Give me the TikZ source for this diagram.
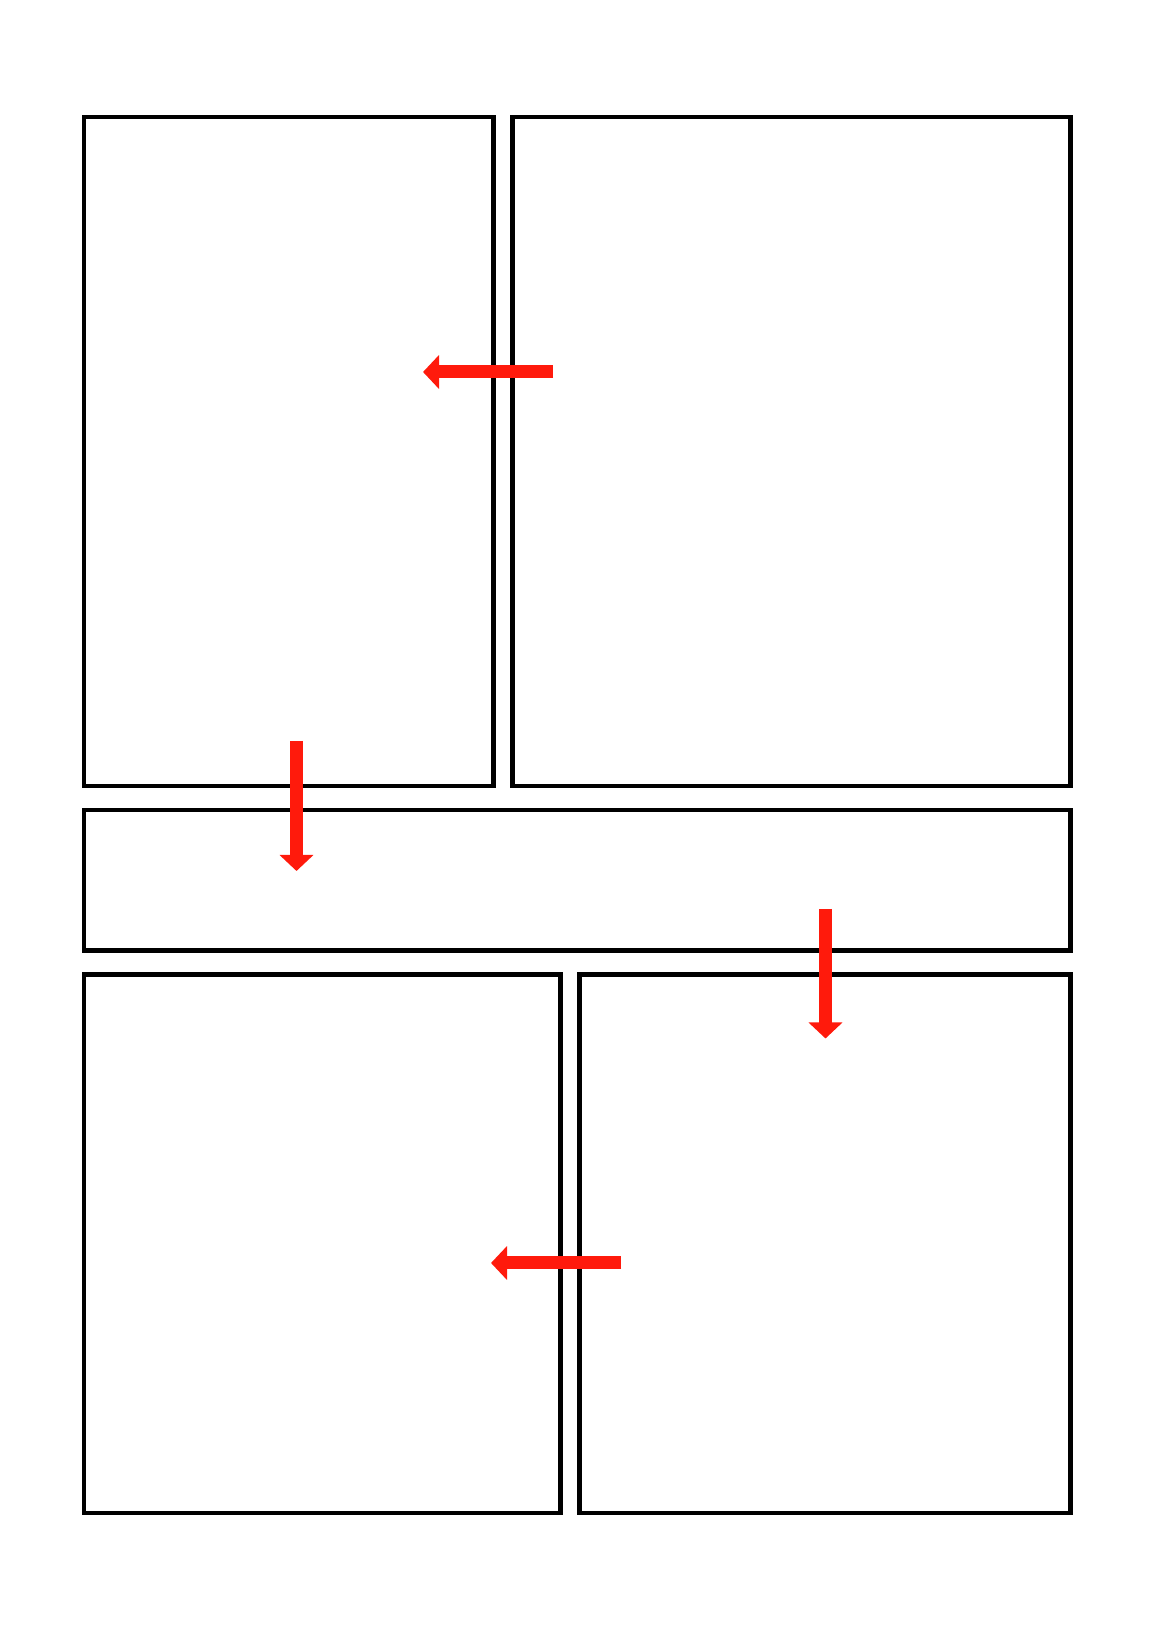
\documentclass[tikz,border=0pt]{standalone}
\usetikzlibrary{arrows.meta}
\definecolor{arrowred}{RGB}{255,26,12}
\begin{document}
\begin{tikzpicture}[panel/.style={black,line width=1.33pt},
	readarrow/.style={arrowred,line width=0.13cm,-{Triangle[length=0.16cm,width=0.33cm]}}]
	\useasboundingbox (0.0,0.0) rectangle (11.55,16.36);
	% Panels
	\draw [panel] (0.84,8.50) rectangle (4.935,15.19);
	\draw [panel] (5.125,8.50) rectangle (10.705,15.19);
	\draw [panel] (0.84,6.855) rectangle (10.705,8.26);
	\draw [panel] (0.84,1.23) rectangle (5.605,6.615);
	\draw [panel] (5.795,1.23) rectangle (10.705,6.615);
	%Reading order
	\coordinate (r1s) at (5.53,12.64);
	\coordinate (r1e) at (4.23,12.64);
	\coordinate (r2s) at (2.965,8.95);
	\coordinate (r2e) at (2.965,7.65);
	\coordinate (r3s) at (8.255,7.27);
	\coordinate (r3e) at (8.255,5.975);
	\coordinate (r4s) at (6.21,3.73);
	\coordinate (r4e) at (4.91,3.73);
	\draw [readarrow] (r1s) -- (r1e);
	\draw [readarrow] (r2s) -- (r2e);
	\draw [readarrow] (r3s) -- (r3e);
	\draw [readarrow] (r4s) -- (r4e);
\end{tikzpicture}
\end{document}
